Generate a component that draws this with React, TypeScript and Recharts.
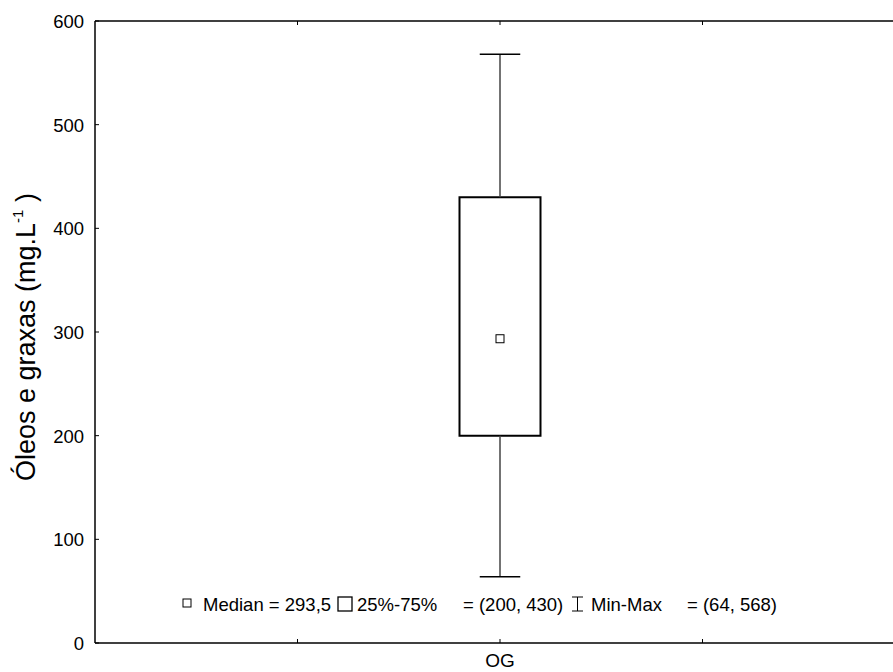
import React from "react";
import {
  ComposedChart,
  XAxis,
  YAxis,
  Scatter,
  ReferenceArea,
  ReferenceLine,
  Customized,
} from "recharts";

// box-plot statistics (mg.L-1)
const categories = ["OG"];
const minValues = [64];
const q1Values = [200];
const medianValues = [293.5];
const q3Values = [430];
const maxValues = [568];
const yTicks = [0, 100, 200, 300, 400, 500, 600];

const FONT = "Arial, 'Liberation Sans', sans-serif";
const BOX_HALF = 0.2;
const CAP_HALF = 0.1;

const data = categories.map((name, i) => ({
  name,
  x: i + 2,
  min: minValues[i],
  q1: q1Values[i],
  median: medianValues[i],
  q3: q3Values[i],
  max: maxValues[i],
}));

const BottomTick = (props: any) => {
  const { x, y, payload } = props;
  const label = categories[payload.value - 2];
  return (
    <g>
      <line x1={x} y1={y} x2={x} y2={y - 4} stroke="#000" strokeWidth={1} />
      {label && (
        <text x={x} y={y + 24} textAnchor="middle" fontSize={19} fontFamily={FONT} fill="#000">
          {label}
        </text>
      )}
    </g>
  );
};

const TopTick = (props: any) => {
  const { x, y } = props;
  return <line x1={x} y1={y} x2={x} y2={y + 4} stroke="#000" strokeWidth={1} />;
};

const LeftTick = (props: any) => {
  const { x, y, payload } = props;
  return (
    <g>
      <line x1={x} y1={y} x2={x + 4} y2={y} stroke="#000" strokeWidth={1} />
      <text x={x - 11} y={y + 7} textAnchor="end" fontSize={18.5} fontFamily={FONT} fill="#000">
        {payload.value}
      </text>
    </g>
  );
};

const MedianMark = (props: any) => {
  const { cx, cy } = props;
  return <rect x={cx - 4} y={cy - 4} width={8} height={8} fill="#fff" stroke="#000" strokeWidth={1} />;
};

const Annotations = () => (
  <g fontFamily={FONT} fill="#000">
    <text
      transform="rotate(-90 35 337)"
      x={35}
      y={337}
      textAnchor="middle"
      fontSize={27}
    >
      Óleos e graxas (mg.L
      <tspan fontSize={15} dy={-12}>-1</tspan>
      <tspan dy={12}> )</tspan>
    </text>
    {/* legend */}
    <rect x={183} y={599} width={8} height={8} fill="#fff" stroke="#000" strokeWidth={1} />
    <text x={203} y={611} fontSize={18.5}>Median = 293,5</text>
    <rect x={338} y={597} width={14} height={14} fill="#fff" stroke="#000" strokeWidth={1.3} />
    <text x={357} y={611} fontSize={18.5}>25%-75%</text>
    <text x={463} y={611} fontSize={18.5}>= (200, 430)</text>
    <line x1={572} y1={597} x2={583} y2={597} stroke="#000" strokeWidth={1} />
    <line x1={577.5} y1={597} x2={577.5} y2={611} stroke="#000" strokeWidth={1} />
    <line x1={572} y1={611} x2={583} y2={611} stroke="#000" strokeWidth={1} />
    <text x={591} y={611} fontSize={18.5}>Min-Max</text>
    <text x={687} y={611} fontSize={18.5}>= (64, 568)</text>
  </g>
);

export default function App() {
  const d = data[0];
  return (
    <div
      style={{
        position: "absolute",
        left: 0,
        top: 0,
        width: 893,
        height: 672,
        overflow: "hidden",
        background: "#fff",
      }}
    >
      <ComposedChart
        width={920}
        height={672}
        data={data}
        margin={{ top: 1, right: 15, bottom: 0, left: 35 }}
      >
        <XAxis
          xAxisId="bottom"
          type="number"
          dataKey="x"
          domain={[0, 4]}
          ticks={[1, 2, 3]}
          allowDataOverflow
          height={29}
          axisLine={{ stroke: "#000", strokeWidth: 1.5 }}
          tickLine={false}
          tickSize={0}
          tickMargin={0}
          tick={<BottomTick />}
          interval={0}
        />
        <XAxis
          xAxisId="top"
          orientation="top"
          type="number"
          dataKey="x"
          domain={[0, 4]}
          ticks={[1, 2, 3]}
          allowDataOverflow
          height={20}
          axisLine={{ stroke: "#000", strokeWidth: 1.5 }}
          tickLine={false}
          tickSize={0}
          tickMargin={0}
          tick={<TopTick />}
          interval={0}
        />
        <YAxis
          type="number"
          domain={[0, 600]}
          ticks={yTicks}
          width={60}
          axisLine={{ stroke: "#000", strokeWidth: 1.5 }}
          tickLine={false}
          tickSize={0}
          tickMargin={0}
          tick={<LeftTick />}
          interval={0}
        />
        {/* whiskers */}
        <ReferenceLine
          xAxisId="bottom"
          segment={[{ x: d.x, y: d.q3 }, { x: d.x, y: d.max }]}
          stroke="#444"
          strokeWidth={1.5}
        />
        <ReferenceLine
          xAxisId="bottom"
          segment={[{ x: d.x, y: d.min }, { x: d.x, y: d.q1 }]}
          stroke="#444"
          strokeWidth={1.5}
        />
        <ReferenceLine
          xAxisId="bottom"
          segment={[{ x: d.x - CAP_HALF, y: d.max }, { x: d.x + CAP_HALF, y: d.max }]}
          stroke="#000"
          strokeWidth={1.5}
        />
        <ReferenceLine
          xAxisId="bottom"
          segment={[{ x: d.x - CAP_HALF, y: d.min }, { x: d.x + CAP_HALF, y: d.min }]}
          stroke="#000"
          strokeWidth={1.5}
        />
        {/* box */}
        <ReferenceArea
          xAxisId="bottom"
          x1={d.x - BOX_HALF}
          x2={d.x + BOX_HALF}
          y1={d.q1}
          y2={d.q3}
          fill="#fff"
          fillOpacity={1}
          stroke="#000"
          strokeWidth={2}
        />
        <Scatter
          xAxisId="bottom"
          dataKey="median"
          shape={<MedianMark />}
          isAnimationActive={false}
        />
        <Customized component={<Annotations />} />
      </ComposedChart>
    </div>
  );
}
